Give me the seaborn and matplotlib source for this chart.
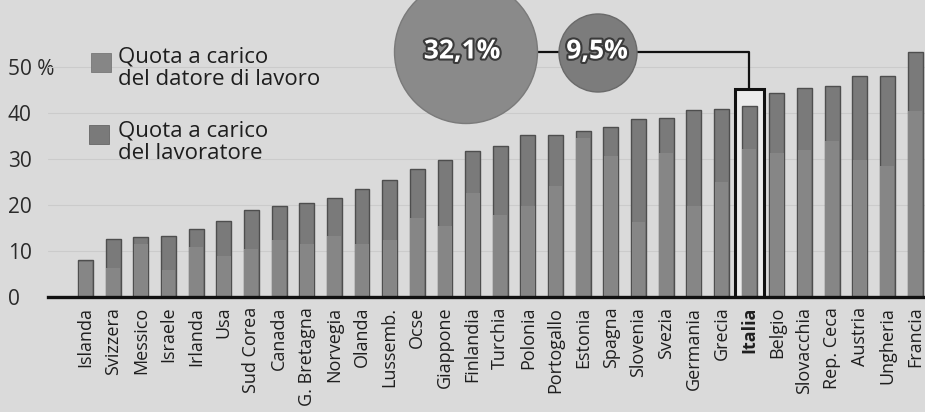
import matplotlib
matplotlib.use("Agg")
import matplotlib.pyplot as plt
import matplotlib.patheffects as pe
from matplotlib.patches import Rectangle, Circle
import seaborn as sns
import pandas as pd

paesi = ["Islanda", "Svizzera", "Messico", "Israele", "Irlanda", "Usa", "Sud Corea",
         "Canada", "G. Bretagna", "Norvegia", "Olanda", "Lussemb.", "Ocse", "Giappone",
         "Finlandia", "Turchia", "Polonia", "Portogallo", "Estonia", "Spagna", "Slovenia",
         "Svezia", "Germania", "Grecia", "Italia", "Belgio", "Slovacchia", "Rep. Ceca",
         "Austria", "Ungheria", "Francia"]
datore = [7.6, 6.3, 11.6, 5.9, 10.8, 8.9, 10.4, 12.4, 11.5, 13.3, 11.5, 12.4, 17.2, 15.5,
          22.6, 17.8, 19.7, 24.2, 34.5, 30.6, 16.3, 31.4, 19.7, 24.9, 32.1, 31.2, 32.0,
          34.0, 29.7, 28.5, 40.5]
lavoratore = [0.4, 6.3, 1.4, 7.4, 4.0, 7.6, 8.5, 7.4, 8.9, 8.2, 12.0, 13.0, 10.6, 14.3,
              9.1, 15.0, 15.5, 11.0, 1.6, 6.4, 22.4, 7.5, 21.0, 16.0, 9.5, 13.1, 13.4,
              11.9, 18.3, 19.5, 12.8]
yticks = [0, 10, 20, 30, 40, 50]
ytick_labels = ["0", "10", "20", "30", "40", "50 %"]
legend_labels = ["Quota a carico\ndel datore di lavoro", "Quota a carico\ndel lavoratore"]
evidenza = "Italia"
bolle = ["32,1%", "9,5%"]

df = pd.DataFrame({"paese": paesi, "datore": datore, "lavoratore": lavoratore})
df["totale"] = df["datore"] + df["lavoratore"]

BG = "#dadada"
C_DAT = "#868686"
C_LAV = "#7a7a7a"
FONT = ["Open Sans", "DejaVu Sans"]

sns.set_theme(style="white")
plt.rcParams["font.family"] = FONT

W, H = 925, 412
fig = plt.figure(figsize=(W / 100, H / 100), dpi=100)
fig.patch.set_facecolor(BG)
ax = fig.add_axes([48 / W, 115 / H, 877 / W, 297 / H])
ax.set_facecolor(BG)

sns.barplot(data=df, x="paese", y="totale", color=C_LAV, width=0.54, ax=ax,
            edgecolor="#4e4e4e", linewidth=1.0, saturation=1, zorder=2)
sns.barplot(data=df, x="paese", y="datore", color=C_DAT, width=0.50, ax=ax,
            edgecolor="none", linewidth=0.0, saturation=1, zorder=2)

ax.set_xlim(-1.356, 30.36)
ax.set_ylim(0, 64.57)
ax.set_xlabel("")
ax.set_ylabel("")
for s in ["top", "right", "left"]:
    ax.spines[s].set_visible(False)
ax.spines["bottom"].set_color("#111111")
ax.spines["bottom"].set_linewidth(2.4)
ax.spines["bottom"].set_zorder(4)

for yv in yticks[1:]:
    ax.axhline(yv, color="#cbcbcb", lw=0.8, zorder=1)

ax.set_yticks(yticks)
ax.set_yticklabels(ytick_labels, fontsize=15, color="#2a2a2a")
ax.tick_params(axis="y", length=0, pad=29)
for lab in ax.get_yticklabels():
    lab.set_horizontalalignment("left")

ax.set_xticks(range(len(paesi)))
ax.set_xticklabels(paesi, rotation=90, fontsize=13, color="#1e1e1e", va="top", ha="center")
ax.tick_params(axis="x", length=0, pad=7)
for lab in ax.get_xticklabels():
    if lab.get_text() == evidenza:
        lab.set_fontweight("bold")

# highlight box around Italia
i_it = paesi.index(evidenza)
box_top = 45.2
ax.add_patch(Rectangle((i_it - 0.52, 0), 1.04, box_top, facecolor="#ececec",
                       edgecolor="none", zorder=1.5))
ax.add_patch(Rectangle((i_it - 0.52, 0), 1.04, box_top, fill=False,
                       edgecolor="#111111", lw=2.2, zorder=3))

# overlay in pixel coordinates for annotations
ov = fig.add_axes([0, 0, 1, 1], facecolor="none")
ov.set_xlim(0, W)
ov.set_ylim(H, 0)
ov.axis("off")

xp, yp = ax.transData.transform((i_it, box_top))
xp_px = xp
yp_px = H - yp

line_y = 52
ov.plot([538, 559], [line_y, line_y], color="#111111", lw=1.6, zorder=1)
ov.plot([637, xp_px, xp_px], [line_y, line_y, yp_px], color="#111111", lw=1.6, zorder=1)
ov.add_patch(Circle((466, 52), 71.5, facecolor="#8a8a8a", edgecolor="#7a7a7a", lw=1, zorder=2))
ov.add_patch(Circle((598, 53), 39, facecolor="#7c7c7c", edgecolor="#6a6a6a", lw=1, zorder=2))
stroke = [pe.withStroke(linewidth=3, foreground="#3a3a3a")]
ov.text(462, 51, bolle[0], fontsize=19, fontweight="bold", color="white",
        ha="center", va="center", zorder=3, path_effects=stroke)
ov.text(597, 51, bolle[1], fontsize=19, fontweight="bold", color="white",
        ha="center", va="center", zorder=3, path_effects=stroke)

# legend
ov.add_patch(Rectangle((91, 53), 20, 19, facecolor=C_DAT, edgecolor="#777777", lw=0.6))
ov.add_patch(Rectangle((89, 125), 20, 19, facecolor=C_LAV, edgecolor="#666666", lw=0.6))
ov.text(118, 46, legend_labels[0], fontsize=16, color="#1e1e1e", ha="left", va="top",
        linespacing=1.15)
ov.text(118, 120, legend_labels[1], fontsize=16, color="#1e1e1e", ha="left", va="top",
        linespacing=1.1)

fig.savefig("out.png", dpi=100, facecolor=BG)
